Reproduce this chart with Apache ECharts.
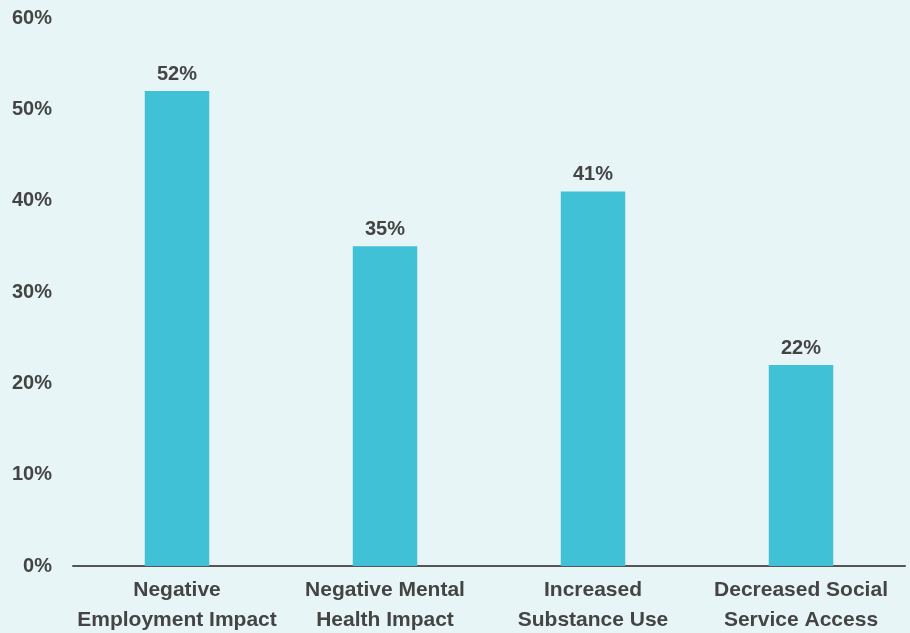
<!DOCTYPE html>
<html><head><meta charset="utf-8">
<script src="https://cdn.jsdelivr.net/npm/echarts@6/dist/echarts.min.js"></script>
<style>html,body{margin:0;padding:0;background:#e8f5f7;}#c{width:910px;height:633px;}</style>
</head><body><div id="c"></div>
<script>
const categories = ["Negative\nEmployment Impact", "Negative Mental\nHealth Impact", "Increased\nSubstance Use", "Decreased Social\nService Access"];
const values = [52, 35, 41, 22];
const yTicks = [0, 10, 20, 30, 40, 50, 60];

const font = "'Liberation Sans', Arial, Helvetica, sans-serif";
const chart = echarts.init(document.getElementById('c'), null, {renderer: 'canvas'});
chart.setOption({
  backgroundColor: '#e8f5f7',
  animation: false,
  grid: {left: 73, right: 5, top: 18, bottom: 67, containLabel: false, outerBoundsMode: 'none'},
  xAxis: {
    type: 'category', data: categories,
    axisLine: {show: true, lineStyle: {color: '#555', width: 2}},
    axisTick: {show: false},
    axisLabel: {color: '#444', fontFamily: font, fontWeight: 'bold', fontSize: 21, lineHeight: 30, margin: 9, interval: 0}
  },
  yAxis: {
    type: 'value', min: yTicks[0], max: yTicks[yTicks.length-1], interval: 10,
    axisLine: {show: false}, axisTick: {show: false}, splitLine: {show: false},
    axisLabel: {color: '#444', fontFamily: font, fontWeight: 'bold', fontSize: 20, margin: 21, formatter: v => v + '%'}
  },
  series: [{
    type: 'bar', data: values, barWidth: '31%',
    itemStyle: {color: '#40c1d6'},
    label: {show: true, position: 'top', distance: 7, color: '#444', fontFamily: font, fontWeight: 'bold', fontSize: 20, formatter: p => p.value + '%'}
  }]
});
</script></body></html>
